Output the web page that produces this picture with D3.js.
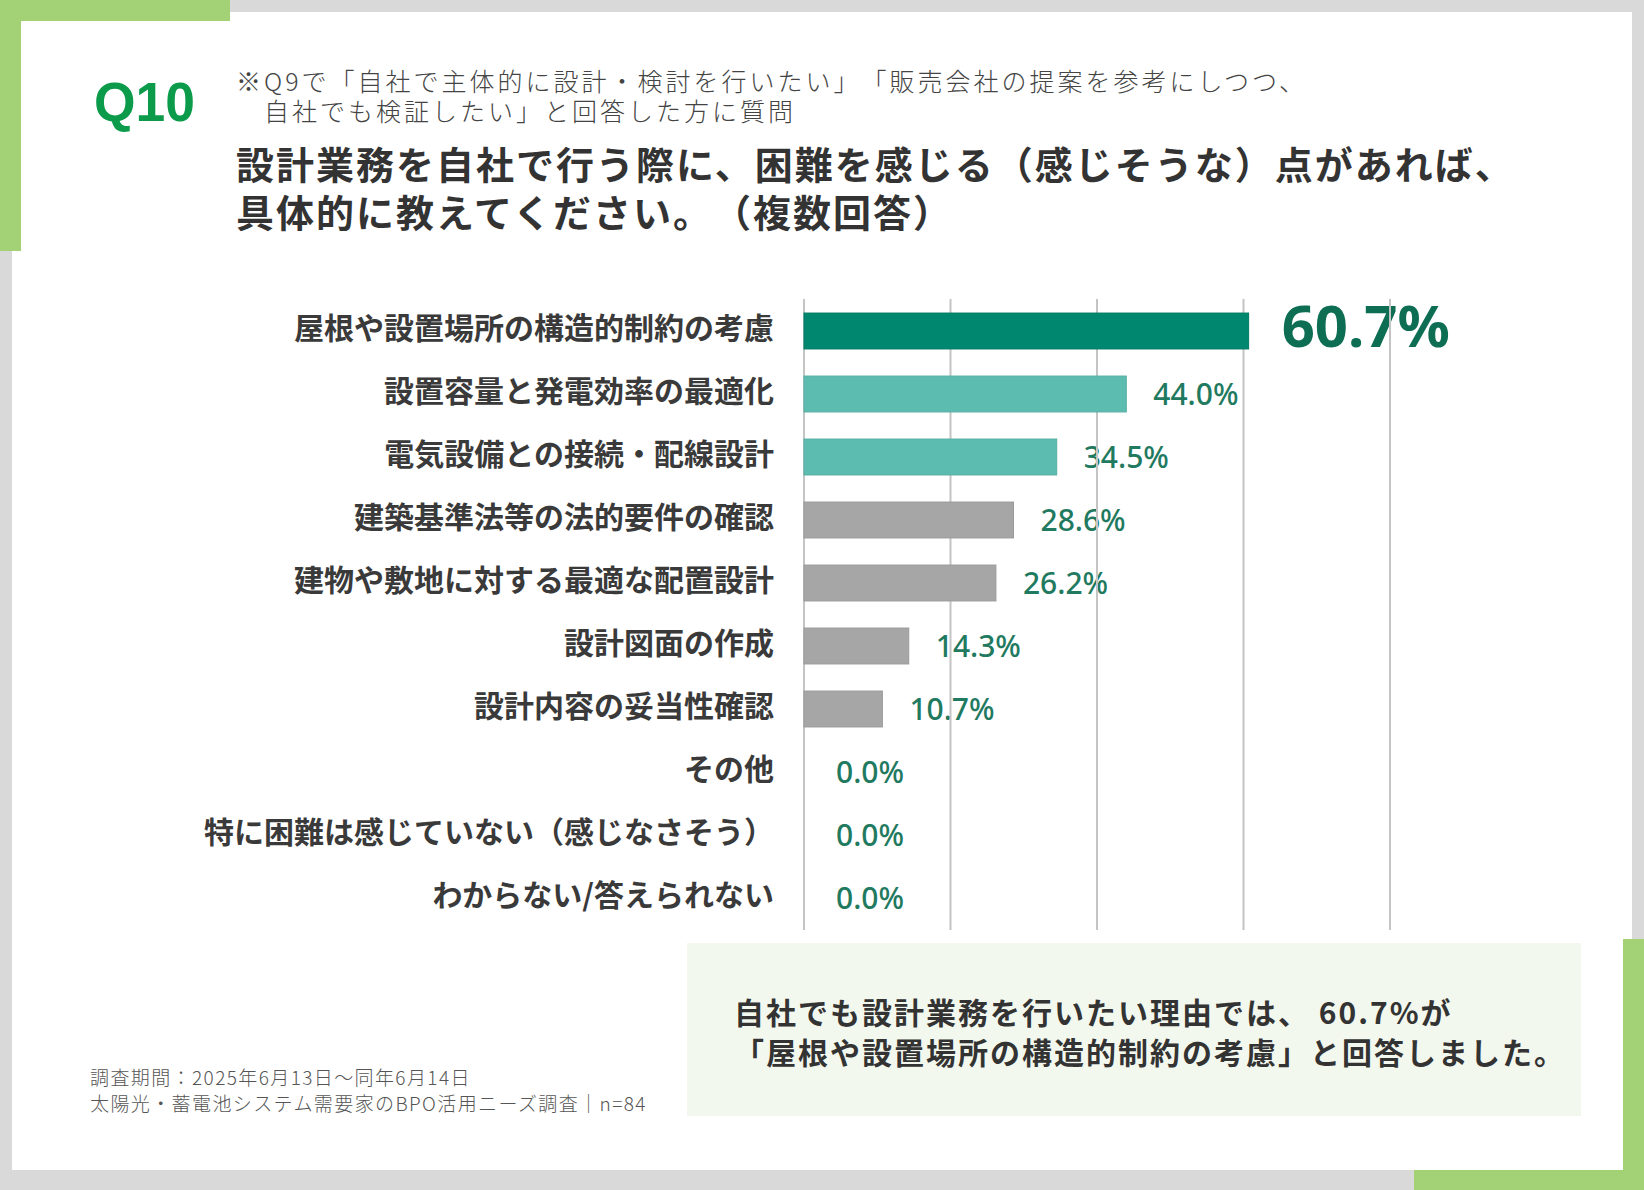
<!DOCTYPE html>
<html>
<head>
<meta charset="utf-8">
<script src="https://cdn.jsdelivr.net/npm/d3@7"></script>
<style>
  body { margin: 0; background: #d9d9d9; }
  svg { display: block; text-spacing-trim: space-all; }
</style>
</head>
<body>
<div id="chart"></div>
<script>
// Data
const categories = [
  "屋根や設置場所の構造的制約の考慮",
  "設置容量と発電効率の最適化",
  "電気設備との接続・配線設計",
  "建築基準法等の法的要件の確認",
  "建物や敷地に対する最適な配置設計",
  "設計図面の作成",
  "設計内容の妥当性確認",
  "その他",
  "特に困難は感じていない（感じなさそう）",
  "わからない/答えられない"
];
const values = [60.7, 44.0, 34.5, 28.6, 26.2, 14.3, 10.7, 0.0, 0.0, 0.0];
const gridTicks = [0, 20, 40, 60, 80];

const noteLines = [
  "※Q9で「自社で主体的に設計・検討を行いたい」「販売会社の提案を参考にしつつ、",
  "　自社でも検証したい」と回答した方に質問"
];
const titleLines = [
  "設計業務を自社で行う際に、困難を感じる（感じそうな）点があれば、",
  "具体的に教えてください。（複数回答）"
];
const calloutLines = [
  "自社でも設計業務を行いたい理由では、 60.7%が",
  "「屋根や設置場所の構造的制約の考慮」と回答しました。"
];
const footerLines = [
  "調査期間：2025年6月13日〜同年6月14日",
  "太陽光・蓄電池システム需要家のBPO活用ニーズ調査｜n=84"
];

const W = 1644, H = 1190;
const JP = "'Noto Sans CJK JP', 'Noto Sans', sans-serif";

const svg = d3.select("#chart").append("svg")
  .attr("width", W)
  .attr("height", H);

// Frame
svg.append("rect").attr("width", W).attr("height", H).attr("fill", "#d9d9d9");
svg.append("rect").attr("x", 12).attr("y", 12).attr("width", 1620).attr("height", 1158).attr("fill", "#ffffff");

const accent = "#a3d176";
svg.append("rect").attr("x", 0).attr("y", 0).attr("width", 230).attr("height", 21).attr("fill", accent);
svg.append("rect").attr("x", 0).attr("y", 0).attr("width", 21).attr("height", 251).attr("fill", accent);
svg.append("rect").attr("x", 1623).attr("y", 939).attr("width", 21).attr("height", 251).attr("fill", accent);
svg.append("rect").attr("x", 1414).attr("y", 1170).attr("width", 230).attr("height", 20).attr("fill", accent);

// Header
svg.append("text")
  .attr("x", 94).attr("y", 121)
  .attr("textLength", 101).attr("lengthAdjust", "spacingAndGlyphs")
  .style("font-family", "'Liberation Sans', Arial, sans-serif")
  .style("font-weight", 700)
  .style("font-size", "56px")
  .attr("fill", "#0b9b4a")
  .text("Q10");

svg.append("g").selectAll("text")
  .data(noteLines)
  .join("text")
  .attr("x", 236)
  .attr("y", (d, i) => 91 + i * 30)
  .style("font-family", JP)
  .style("font-weight", 300)
  .style("font-size", "25px")
  .style("letter-spacing", "3px")
  .attr("fill", "#444")
  .text(d => d);

svg.append("g").selectAll("text")
  .data(titleLines)
  .join("text")
  .attr("x", 236)
  .attr("y", (d, i) => 179 + i * 48)
  .style("font-family", JP)
  .style("font-weight", 700)
  .style("font-size", "38px")
  .style("letter-spacing", "2px")
  .attr("fill", "#333")
  .text(d => d);

// Chart
const x = d3.scaleLinear()
  .domain([0, 80])
  .range([804, 1390]);

const y = d3.scaleBand()
  .domain(categories)
  .range([299.5, 929.5])
  .paddingInner(0.43)
  .paddingOuter(0.215);

const barColor = i => i === 0 ? "#00876f" : (i < 3 ? "#5dbcb0" : "#a6a6a6");
const barStroke = i => i === 0 ? "#007a64" : (i < 3 ? "#55aea3" : "#9a9a9a");

// Category labels
svg.append("g").selectAll("text")
  .data(categories)
  .join("text")
  .attr("x", 774)
  .attr("y", d => y(d) + y.bandwidth() / 2 - 5)
  .attr("text-anchor", "end")
  .attr("dominant-baseline", "central")
  .style("font-family", JP)
  .style("font-weight", 700)
  .style("font-size", "30px")
  .attr("fill", "#3a3a3a")
  .text(d => d);

// Value labels
svg.append("g").selectAll("text")
  .data(values)
  .join("text")
  .attr("x", (d, i) => x(d) + (i === 0 ? 33 : (d > 0 ? 27 : 32)))
  .attr("y", (d, i) => y(categories[i]) + y.bandwidth() / 2 + (i === 0 ? 16 : 11))
  .style("font-family", "'Noto Sans', 'Open Sans', sans-serif")
  .style("font-weight", (d, i) => i === 0 ? 700 : 500)
  .style("font-size", (d, i) => i === 0 ? "58px" : "30px")
  .attr("fill", (d, i) => i === 0 ? "#0e6e53" : "#1f7a5f")
  .text(d => d.toFixed(1) + "%");

// Gridlines
svg.append("g").selectAll("line")
  .data(gridTicks)
  .join("line")
  .attr("x1", d => x(d)).attr("x2", d => x(d))
  .attr("y1", 299).attr("y2", 930)
  .attr("stroke", "#c4c4c4")
  .attr("stroke-width", 2);

// Bars
svg.append("g").selectAll("rect")
  .data(values)
  .join("rect")
  .attr("x", x(0))
  .attr("y", (d, i) => y(categories[i]))
  .attr("width", d => x(d) - x(0))
  .attr("height", y.bandwidth())
  .attr("fill", (d, i) => barColor(i))
  .attr("stroke", (d, i) => d > 0 ? barStroke(i) : "none")
  .attr("stroke-width", 1);

// Callout box
svg.append("rect")
  .attr("x", 687).attr("y", 943)
  .attr("width", 894).attr("height", 173)
  .attr("fill", "#f3f8ee");

svg.append("g").selectAll("text")
  .data(calloutLines)
  .join("text")
  .attr("x", 734)
  .attr("y", (d, i) => 1024 + i * 40)
  .style("font-family", JP)
  .style("font-weight", 700)
  .style("font-size", "30px")
  .style("letter-spacing", "2px")
  .attr("fill", "#333")
  .text(d => d);

// Footer
svg.append("g").selectAll("text")
  .data(footerLines)
  .join("text")
  .attr("x", 90)
  .attr("y", (d, i) => 1085 + i * 26)
  .style("font-family", JP)
  .style("font-weight", 300)
  .style("font-size", "19px")
  .style("letter-spacing", "1.4px")
  .attr("fill", "#555")
  .text(d => d);
</script>
</body>
</html>
